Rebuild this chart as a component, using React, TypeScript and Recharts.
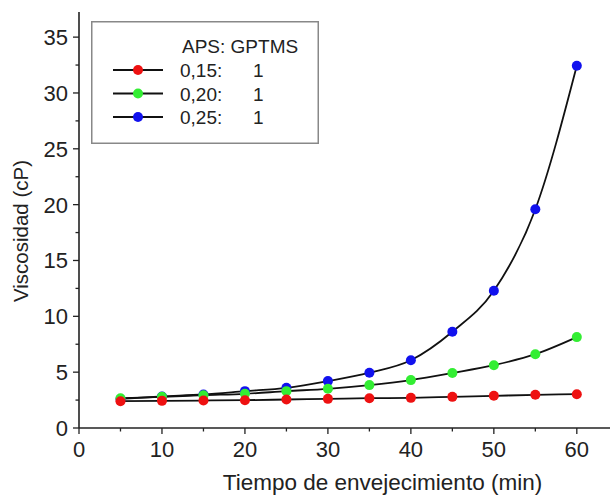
import React from 'react';
import { LineChart, Line, XAxis, YAxis, Legend } from 'recharts';

// Aging time (min)
const minutes = [5, 10, 15, 20, 25, 30, 35, 40, 45, 50, 55, 60];
// Viscosity (cP) for each APS:GPTMS molar ratio
const viscosity015 = [2.4, 2.43, 2.46, 2.49, 2.55, 2.61, 2.67, 2.7, 2.79, 2.88, 2.97, 3.03];
const viscosity020 = [2.67, 2.79, 2.94, 3.06, 3.3, 3.51, 3.84, 4.29, 4.92, 5.62, 6.61, 8.14];
const viscosity025 = [2.6, 2.82, 3.0, 3.3, 3.6, 4.2, 4.95, 6.07, 8.62, 12.29, 19.58, 32.44];

const xTicks = [0, 5, 10, 15, 20, 25, 30, 35, 40, 45, 50, 55, 60];
const yTicks = [0, 2.5, 5, 7.5, 10, 12.5, 15, 17.5, 20, 22.5, 25, 27.5, 30, 32.5, 35];

const xTitle = 'Tiempo de envejecimiento (min)';
const yTitle = 'Viscosidad (cP)';

const legendTitle = 'APS: GPTMS';
const legendRows = [
  { ratio: '0,15:', gptms: '1', color: '#ee1111' },
  { ratio: '0,20:', gptms: '1', color: '#33ee33' },
  { ratio: '0,25:', gptms: '1', color: '#1111ee' },
];

const rows = minutes.map((m, i) => ({
  t: m,
  r015: viscosity015[i],
  r020: viscosity020[i],
  r025: viscosity025[i],
}));

const FONT = '"Liberation Sans", Arial, sans-serif';
const INK = '#222';

const XTick = (props: any) => {
  const { x, y, payload } = props;
  const major = payload.value % 10 === 0;
  return (
    <g>
      <line x1={x} y1={y} x2={x} y2={y + (major ? 6 : 3.5)} stroke={INK} strokeWidth={1.3} />
      {major && (
        <text x={x} y={y + 28.5} textAnchor="middle" fontSize={22} fill={INK} fontFamily={FONT}>
          {payload.value}
        </text>
      )}
    </g>
  );
};

const YTick = (props: any) => {
  const { x, y, payload } = props;
  const major = payload.value % 5 === 0;
  return (
    <g>
      <line x1={x} y1={y} x2={x - (major ? 6 : 3.5)} y2={y} stroke={INK} strokeWidth={1.3} />
      {major && (
        <text x={x - 11} y={y + 8} textAnchor="end" fontSize={22} fill={INK} fontFamily={FONT}>
          {payload.value}
        </text>
      )}
    </g>
  );
};

const XTitle = (props: any) => {
  const vb = props.viewBox;
  return (
    <text
      x={vb.x + vb.width / 2 + 38}
      y={vb.y + 62}
      textAnchor="middle"
      fontSize={22.5}
      fill={INK}
      fontFamily={FONT}
    >
      {xTitle}
    </text>
  );
};

const YTitle = (props: any) => {
  const vb = props.viewBox;
  const cx = vb.x + 28;
  const cy = vb.y + vb.height / 2 + 11;
  return (
    <text
      x={cx}
      y={cy}
      transform={`rotate(-90, ${cx}, ${cy})`}
      textAnchor="middle"
      fontSize={20.5}
      fill={INK}
      fontFamily={FONT}
    >
      {yTitle}
    </text>
  );
};

const LegendBox = () => (
  <svg width={228} height={123} style={{ display: 'block' }}>
    <rect x={0.75} y={0.75} width={226.5} height={121.5} fill="#fff" stroke="#888" strokeWidth={1.5} />
    <text x={91} y={32} fontSize={19} fill={INK} fontFamily={FONT}>
      {legendTitle}
    </text>
    {legendRows.map((r, i) => {
      const cy = 49 + i * 23.5;
      return (
        <g key={r.ratio}>
          <line x1={22} y1={cy} x2={72} y2={cy} stroke="#111" strokeWidth={1.8} />
          <circle cx={47} cy={cy} r={5} fill={r.color} />
          <text x={89} y={cy + 7} fontSize={19} fill={INK} fontFamily={FONT}>
            {r.ratio}
          </text>
          <text x={162} y={cy + 7} fontSize={19} fill={INK} fontFamily={FONT}>
            {r.gptms}
          </text>
        </g>
      );
    })}
  </svg>
);

export default function App() {
  return (
    <div style={{ position: 'absolute', left: 0, top: 0, background: '#fff' }}>
      <LineChart width={610} height={502} data={rows} margin={{ top: 12, right: 0, bottom: 0, left: 0 }}>
        <XAxis
          dataKey="t"
          type="number"
          domain={[0, 64]}
          ticks={xTicks}
          interval={0}
          tickSize={0}
          tickMargin={0}
          tickLine={false}
          tick={<XTick />}
          height={74}
          axisLine={{ stroke: INK, strokeWidth: 1.6 }}
          label={<XTitle />}
        />
        <XAxis
          xAxisId="top"
          orientation="top"
          type="number"
          domain={[0, 64]}
          height={0}
          tick={false}
          tickLine={false}
          axisLine={{ stroke: INK, strokeWidth: 1.6 }}
        />
        <YAxis
          type="number"
          domain={[0, 37.25]}
          ticks={yTicks}
          interval={0}
          tickSize={0}
          tickMargin={0}
          tickLine={false}
          tick={<YTick />}
          width={79}
          axisLine={{ stroke: INK, strokeWidth: 1.6 }}
          label={<YTitle />}
        />
        <Legend
          layout="horizontal"
          verticalAlign="middle"
          align="center"
          content={<LegendBox />}
          wrapperStyle={{ left: 91, top: 21, width: 228, height: 123 }}
        />
        <Line
          dataKey="r025"
          type="monotone"
          stroke="#111"
          strokeWidth={1.8}
          dot={{ r: 5, fill: '#1111ee', stroke: 'none' }}
          isAnimationActive={false}
        />
        <Line
          dataKey="r020"
          type="monotone"
          stroke="#111"
          strokeWidth={1.8}
          dot={{ r: 5, fill: '#33ee33', stroke: 'none' }}
          isAnimationActive={false}
        />
        <Line
          dataKey="r015"
          type="monotone"
          stroke="#111"
          strokeWidth={1.8}
          dot={{ r: 5, fill: '#ee1111', stroke: 'none' }}
          isAnimationActive={false}
        />
      </LineChart>
    </div>
  );
}
